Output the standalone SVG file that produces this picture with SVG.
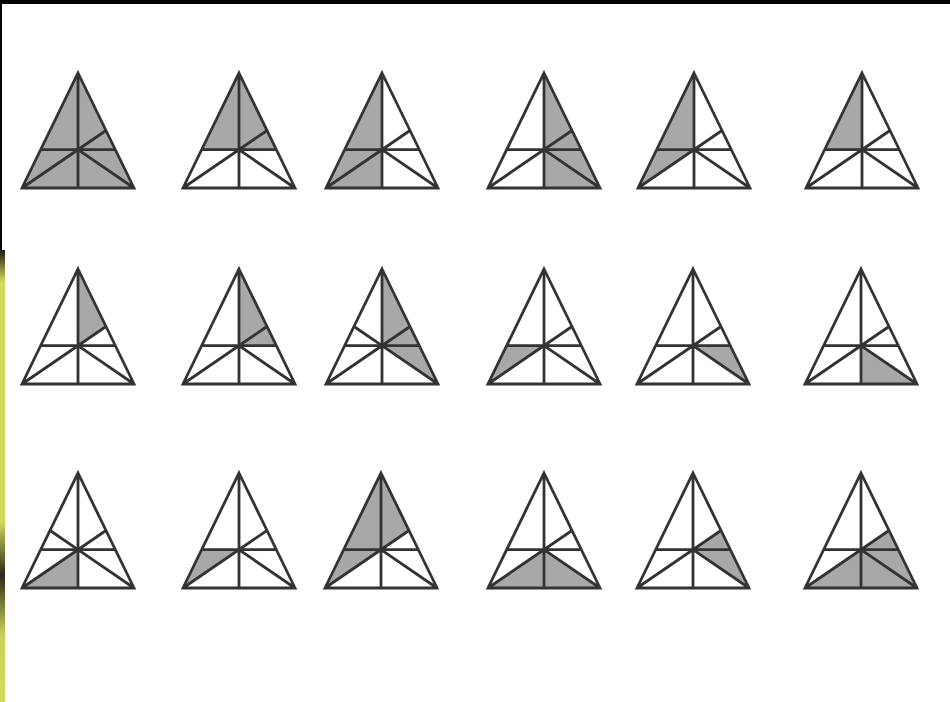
<svg xmlns="http://www.w3.org/2000/svg" xmlns:xlink="http://www.w3.org/1999/xlink" width="950" height="702" viewBox="0 0 950 702">
<style>
.s{fill:#a8a8a8}
.ln{fill:none;stroke:#333333;stroke-width:2.8;stroke-linejoin:miter;stroke-miterlimit:12}
</style>
<defs>
<linearGradient id="strip" x1="0" y1="250" x2="0" y2="702" gradientUnits="userSpaceOnUse">
<stop offset="0" stop-color="#1a1a10"/>
<stop offset="0.07" stop-color="#d3da5c"/>
<stop offset="0.6" stop-color="#d3da5c"/>
<stop offset="0.72" stop-color="#2a2a18"/>
<stop offset="0.85" stop-color="#c9d05a"/>
<stop offset="1" stop-color="#d3da5c"/>
</linearGradient>
<polygon id="UL" points="0,0 -37.33,76.67 0,76.67"/>
<polygon id="UR1" points="0,0 28,57.5 0,76.67"/>
<polygon id="UR2" points="28,57.5 37.33,76.67 0,76.67"/>
<polygon id="LL1" points="-37.33,76.67 -56,115 0,76.67"/>
<polygon id="LL2" points="-56,115 0,115 0,76.67"/>
<polygon id="LR1" points="0,76.67 37.33,76.67 56,115"/>
<polygon id="LR2" points="0,76.67 56,115 0,115"/>
<g id="lines">
<path class="ln" d="M0,0 L56,115 L-56,115 Z M0,0 V115 M-37.33,76.67 H37.33 M-56,115 L28,57.5 M56,115 L0,76.67"/>
</g>
<g id="linesX">
<use xlink:href="#lines"/>
<path class="ln" d="M0,76.67 L-28,57.5"/>
</g>
</defs>
<rect width="950" height="702" fill="#ffffff"/>
<rect x="0" y="0" width="950" height="4" fill="#000"/>
<rect x="0" y="0" width="2" height="250" fill="#000"/>
<rect x="0" y="250" width="5" height="452" fill="url(#strip)"/>

<g id="r1t1" transform="translate(78,73)">
<use xlink:href="#UL" class="s"/><use xlink:href="#UR1" class="s"/><use xlink:href="#UR2" class="s"/><use xlink:href="#LL1" class="s"/><use xlink:href="#LL2" class="s"/><use xlink:href="#LR1" class="s"/><use xlink:href="#LR2" class="s"/>
<use xlink:href="#lines"/>
</g>
<g id="r1t2" transform="translate(239,73)">
<use xlink:href="#UL" class="s"/><use xlink:href="#UR1" class="s"/><use xlink:href="#UR2" class="s"/>
<use xlink:href="#lines"/>
</g>
<g id="r1t3" transform="translate(382,73)">
<use xlink:href="#UL" class="s"/><use xlink:href="#LL1" class="s"/><use xlink:href="#LL2" class="s"/>
<use xlink:href="#lines"/>
</g>
<g id="r1t4" transform="translate(544,73)">
<use xlink:href="#UR1" class="s"/><use xlink:href="#UR2" class="s"/><use xlink:href="#LR1" class="s"/><use xlink:href="#LR2" class="s"/>
<use xlink:href="#lines"/>
</g>
<g id="r1t5" transform="translate(694,73)">
<use xlink:href="#UL" class="s"/><use xlink:href="#LL1" class="s"/>
<use xlink:href="#lines"/>
</g>
<g id="r1t6" transform="translate(862,73)">
<use xlink:href="#UL" class="s"/>
<use xlink:href="#lines"/>
</g>

<g id="r2t1" transform="translate(78,269)">
<use xlink:href="#UR1" class="s"/>
<use xlink:href="#lines"/>
</g>
<g id="r2t2" transform="translate(239,269)">
<use xlink:href="#UR1" class="s"/><use xlink:href="#UR2" class="s"/>
<use xlink:href="#lines"/>
</g>
<g id="r2t3" transform="translate(382,269)">
<use xlink:href="#UR1" class="s"/><use xlink:href="#UR2" class="s"/><use xlink:href="#LR1" class="s"/>
<use xlink:href="#linesX"/>
</g>
<g id="r2t4" transform="translate(544,269)">
<use xlink:href="#LL1" class="s"/>
<use xlink:href="#lines"/>
</g>
<g id="r2t5" transform="translate(693,269)">
<use xlink:href="#LR1" class="s"/>
<use xlink:href="#lines"/>
</g>
<g id="r2t6" transform="translate(861,269)">
<use xlink:href="#LR2" class="s"/>
<use xlink:href="#lines"/>
</g>

<g id="r3t1" transform="translate(78,473)">
<use xlink:href="#LL2" class="s"/>
<use xlink:href="#linesX"/>
</g>
<g id="r3t2" transform="translate(239,473)">
<use xlink:href="#LL1" class="s"/>
<use xlink:href="#lines"/>
</g>
<g id="r3t3" transform="translate(381,473)">
<use xlink:href="#UL" class="s"/><use xlink:href="#UR1" class="s"/><use xlink:href="#LL1" class="s"/>
<use xlink:href="#lines"/>
</g>
<g id="r3t4" transform="translate(544,473)">
<use xlink:href="#LL2" class="s"/><use xlink:href="#LR2" class="s"/>
<use xlink:href="#lines"/>
</g>
<g id="r3t5" transform="translate(693,473)">
<use xlink:href="#UR2" class="s"/><use xlink:href="#LR1" class="s"/>
<use xlink:href="#lines"/>
</g>
<g id="r3t6" transform="translate(861,473)">
<use xlink:href="#UR2" class="s"/><use xlink:href="#LR1" class="s"/><use xlink:href="#LR2" class="s"/><use xlink:href="#LL2" class="s"/>
<use xlink:href="#lines"/>
</g>
</svg>
